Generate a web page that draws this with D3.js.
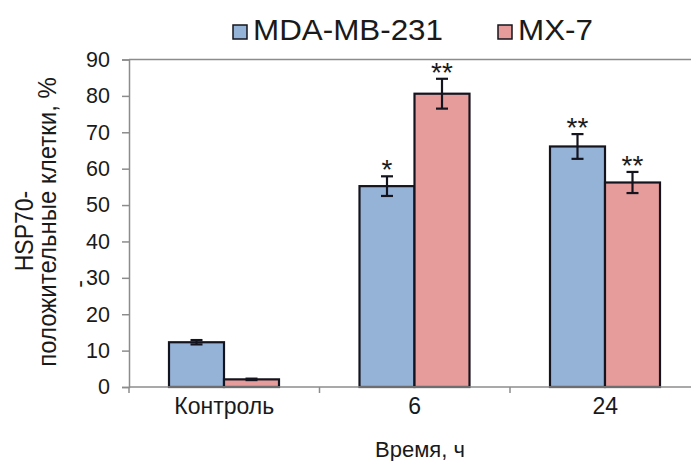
<!DOCTYPE html>
<html><head><meta charset="utf-8">
<script src="https://cdn.jsdelivr.net/npm/d3@7"></script>
<style>body{margin:0;background:#fff}svg{display:block}text{font-family:"Liberation Sans",Arial,sans-serif;fill:#1a1a1a}</style>
</head><body><svg id="c" width="691" height="461"></svg>
<script>
const categories = ["Контроль", "6", "24"];
const seriesNames = ["MDA-MB-231", "MX-7"];
const mdaValues = [12.3, 55.2, 66.1];
const mdaErrors = [0.6, 2.7, 3.4];
const mxValues = [2.1, 80.6, 56.2];
const mxErrors = [0.2, 4.1, 2.9];
const mdaStars = ["", "*", "**"];
const mxStars = ["", "**", "**"];
const yTicks = [0, 10, 20, 30, 40, 50, 60, 70, 80, 90];
const colors = ["#95b3d7", "#e59c9b"];

const svg = d3.select("#c");
const x0 = d3.scaleBand().domain(categories).range([129, 700.5]);
const x1 = d3.scaleBand().domain(seriesNames).range([40, 150]);
const y = d3.scaleLinear().domain([0, 90]).range([387, 59.5]);
const AX = "#8c8c8c", INK = "#14141e";

// top border line at 90
svg.append("line").attr("x1",129).attr("x2",691).attr("y1",y(90)).attr("y2",y(90)).attr("stroke",AX).attr("stroke-width",1.5);

// Y axis
const gy = svg.append("g").attr("transform","translate(129,0)")
  .call(d3.axisLeft(y).tickValues(yTicks).tickSize(7).tickPadding(12));
gy.select(".domain").attr("stroke",AX).attr("stroke-width",1.5);
gy.selectAll(".tick line").attr("stroke",AX).attr("stroke-width",1.5);
gy.selectAll(".tick text").attr("font-size",21.5).attr("fill","#1a1a1a").attr("font-family","Liberation Sans, Arial, sans-serif");

// bars
const series = [
  {name: seriesNames[0], vals: mdaValues, errs: mdaErrors, stars: mdaStars, color: colors[0]},
  {name: seriesNames[1], vals: mxValues, errs: mxErrors, stars: mxStars, color: colors[1]}
];
series.forEach(s => {
  const g = svg.append("g");
  g.selectAll("rect").data(categories).join("rect")
    .attr("x", c => x0(c) + x1(s.name))
    .attr("width", x1.bandwidth())
    .attr("y", (c,i) => y(s.vals[i]))
    .attr("height", (c,i) => y(0) - y(s.vals[i]))
    .attr("fill", s.color).attr("stroke",INK).attr("stroke-width",2.2);
  categories.forEach((c,i) => {
    const cx = x0(c) + x1(s.name) + x1.bandwidth()/2;
    const top = y(s.vals[i] + s.errs[i]), bot = y(s.vals[i] - s.errs[i]);
    g.append("line").attr("x1",cx).attr("x2",cx).attr("y1",top).attr("y2",bot).attr("stroke",INK).attr("stroke-width",2.2);
    [top, bot].forEach(yy => g.append("line").attr("x1",cx-6).attr("x2",cx+6).attr("y1",yy).attr("y2",yy).attr("stroke",INK).attr("stroke-width",2.2));
    if (s.stars[i]) {
      g.append("text").attr("x",cx).attr("y",top + 3).attr("text-anchor","middle").attr("font-size",28).text(s.stars[i]);
    }
  });
});

// X axis
const gx = svg.append("g").attr("transform",`translate(0,${y(0)})`)
  .call(d3.axisBottom(x0).tickSize(0).tickPadding(11));
gx.select(".domain").remove();
gx.selectAll(".tick text").attr("font-size",23).attr("fill","#1a1a1a").attr("font-family","Liberation Sans, Arial, sans-serif");
svg.append("line").attr("x1",129).attr("x2",691).attr("y1",y(0)).attr("y2",y(0)).attr("stroke",AX).attr("stroke-width",1.5);
const bounds = [x0.range()[0]].concat(categories.map(c => x0(c) + x0.bandwidth()));
svg.selectAll(".xt").data(bounds).join("line").attr("class","xt")
  .attr("x1",d=>d).attr("x2",d=>d).attr("y1",y(0)).attr("y2",y(0)+6).attr("stroke",AX).attr("stroke-width",1.5);

// axis titles
svg.append("text").attr("x",420).attr("y",457).attr("text-anchor","middle").attr("font-size",22).attr("fill","#333").text("Время, ч");
svg.append("text").attr("transform","translate(33,231) rotate(-90) scale(1,1.12)").attr("text-anchor","middle").attr("font-size",23).text("HSP70-");
svg.append("text").attr("transform","translate(56,222) rotate(-90) scale(1,1.1)").attr("text-anchor","middle").attr("font-size",24).text("положительные клетки, %");
svg.append("text").attr("transform","translate(87,284) rotate(-90)").attr("text-anchor","middle").attr("font-size",23).text("-");

// legend
const leg = [{x:233, tx:253, w:190}, {x:498, tx:518, w:75}];
series.forEach((s,i) => {
  svg.append("rect").attr("x",leg[i].x).attr("y",25).attr("width",14).attr("height",14).attr("fill",s.color).attr("stroke",INK).attr("stroke-width",1.5);
  svg.append("text").attr("x",leg[i].tx).attr("y",40).attr("font-size",30)
    .attr("textLength",leg[i].w).attr("lengthAdjust","spacingAndGlyphs").text(s.name);
});
</script></body></html>
